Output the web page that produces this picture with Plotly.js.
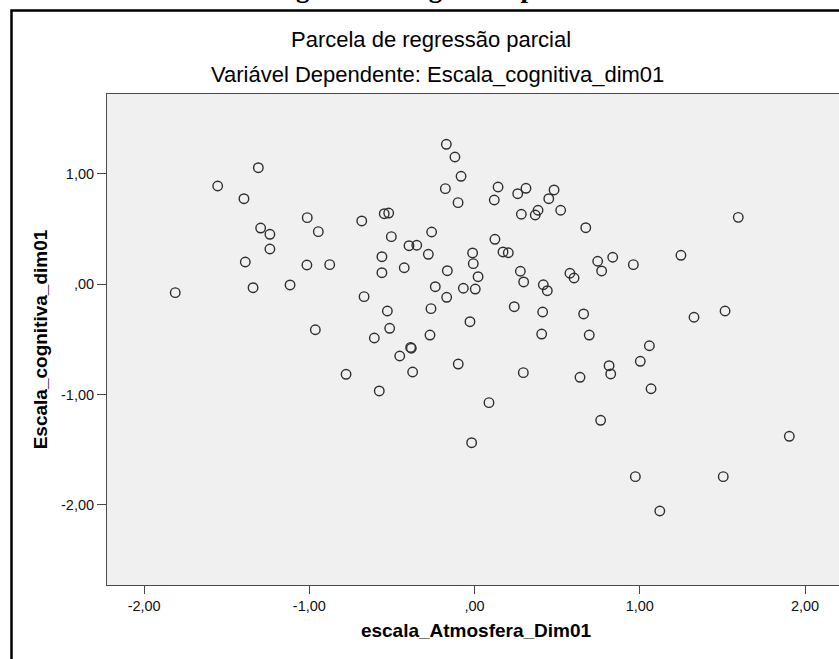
<!DOCTYPE html>
<html>
<head>
<meta charset="utf-8">
<script src="https://cdn.plot.ly/plotly-3.0.1.min.js"></script>
<style>
html, body { margin: 0; padding: 0; background: #ffffff; overflow: hidden; }
#chart { width: 860px; height: 659px; }
</style>
</head>
<body>
<div id="chart"></div>
<script>
// Partial regression residuals
const atmosferaX = [
  -1.309, -1.555, -1.396, -1.013, -0.683, -0.547, -0.520, -1.295, -1.239, -0.946,
  -0.504, -1.239, -0.561, -1.388, -1.015, -0.877, -0.561, -0.426, -1.812, -1.341,
  -1.117, -0.669, -0.171, -0.119, -0.082, -0.177, -0.100, 0.142, 0.119, 0.261,
  0.311, 0.481, 0.449, 0.521, 0.283, 0.367, 0.384, 0.673, 1.596, 1.249,
  -0.260, -0.397, -0.350, -0.280, -0.165, -0.012, -0.008, 0.021, -0.238, -0.068,
  0.004, -0.169, 0.123, 0.172, 0.204, 0.277, 0.297, 0.416, 0.440, 0.577,
  0.602, 0.745, 0.836, 0.769, 0.961, -0.528, -0.264, -0.028, -0.964, -0.514,
  -0.607, -0.270, -0.387, -0.383, -0.453, -0.375, -0.099, -0.778, -0.577, -0.018,
  0.087, 0.240, 0.412, 0.660, 0.406, 0.694, 1.328, 1.516, 1.058, 1.003,
  0.814, 0.824, 0.295, 0.638, 1.068, 0.763, 1.905, 0.973, 1.505, 1.121
];
const cognitivaY = [
  1.057, 0.891, 0.776, 0.604, 0.574, 0.640, 0.646, 0.510, 0.453, 0.477,
  0.432, 0.320, 0.250, 0.202, 0.175, 0.178, 0.105, 0.150, -0.076, -0.031,
  -0.006, -0.112, 1.269, 1.154, 0.979, 0.867, 0.740, 0.882, 0.764, 0.821,
  0.870, 0.855, 0.776, 0.671, 0.635, 0.628, 0.671, 0.513, 0.607, 0.263,
  0.474, 0.350, 0.354, 0.272, 0.123, 0.284, 0.187, 0.069, -0.022, -0.036,
  -0.043, -0.118, 0.408, 0.293, 0.286, 0.118, 0.021, -0.004, -0.058, 0.100,
  0.057, 0.209, 0.245, 0.121, 0.178, -0.242, -0.221, -0.339, -0.412, -0.399,
  -0.487, -0.460, -0.572, -0.580, -0.650, -0.795, -0.723, -0.816, -0.967, -1.436,
  -1.073, -0.203, -0.251, -0.269, -0.451, -0.460, -0.299, -0.242, -0.557, -0.698,
  -0.738, -0.813, -0.801, -0.843, -0.947, -1.233, -1.378, -1.744, -1.744, -2.055
];
const xTickVals = [-2, -1, 0, 1, 2];
const xTickText = ["-2,00", "-1,00", ",00", "1,00", "2,00"];
const yTickVals = [1, 0, -1, -2];
const yTickText = ["1,00", ",00", "-1,00", "-2,00"];
const chartTitle = "Parcela de regressão parcial";
const chartSubtitle = "Variável Dependente: Escala_cognitiva_dim01";
const xTitle = "escala_Atmosfera_Dim01";
const yTitle = "Escala_cognitiva_dim01";
const figureCaption = "Figura 6 – Regressão parcial";

const sans = "Liberation Sans, Arial, sans-serif";

const trace = {
  type: "scatter",
  mode: "markers",
  x: atmosferaX,
  y: cognitivaY,
  marker: {
    symbol: "circle-open",
    size: 9.5,
    color: "#2e2e2e",
    line: { color: "#2e2e2e", width: 1.4 }
  },
  hoverinfo: "x+y"
};

const axisCommon = {
  showgrid: false,
  zeroline: false,
  showline: true,
  linecolor: "#4a4a4a",
  linewidth: 1,
  mirror: true,
  ticks: "outside",
  tickcolor: "#4a4a4a",
  tickwidth: 1,
  automargin: false,
  tickfont: { family: sans, size: 14.5, color: "#111111" }
};

const layout = {
  width: 860,
  height: 659,
  margin: { l: 107, r: 15, t: 94, b: 74 },
  paper_bgcolor: "#ffffff",
  plot_bgcolor: "#f0f0f0",
  showlegend: false,
  xaxis: Object.assign({}, axisCommon, {
    range: [-2.225, 2.242],
    tickmode: "array",
    tickvals: xTickVals,
    ticktext: xTickText,
    ticklen: 8,
    title: { text: xTitle, font: { family: sans, size: 19, weight: "bold", color: "#000" }, standoff: 10 }
  }),
  yaxis: Object.assign({}, axisCommon, {
    range: [-2.726, 1.725],
    tickmode: "array",
    tickvals: yTickVals,
    ticktext: yTickText,
    ticklen: 9,
    title: { text: yTitle, font: { family: sans, size: 19, weight: "bold", color: "#000" }, standoff: 8 }
  }),
  annotations: [
    { text: chartTitle, xref: "paper", yref: "paper", x: 0.439, y: 1.112,
      xanchor: "center", yanchor: "middle", showarrow: false,
      font: { family: sans, size: 22, color: "#000" } },
    { text: chartSubtitle, xref: "paper", yref: "paper", x: 0.4485, y: 1.0407,
      xanchor: "center", yanchor: "middle", showarrow: false,
      font: { family: sans, size: 22, color: "#000" } },
    { text: figureCaption, xref: "paper", yref: "paper", x: 0.447, y: 1.181,
      xanchor: "center", yanchor: "bottom", showarrow: false,
      font: { family: "Liberation Serif, Times New Roman, serif", size: 27, weight: "bold", color: "#000" } }
  ],
  shapes: [
    { type: "rect", xref: "paper", yref: "paper",
      x0: -0.1294, x1: 1.2, y0: -0.3, y1: 1.1701,
      line: { color: "#000", width: 2.5 }, fillcolor: "rgba(0,0,0,0)", layer: "above" }
  ]
};

Plotly.newPlot("chart", [trace], layout, { displayModeBar: false, staticPlot: true });
</script>
</body>
</html>
